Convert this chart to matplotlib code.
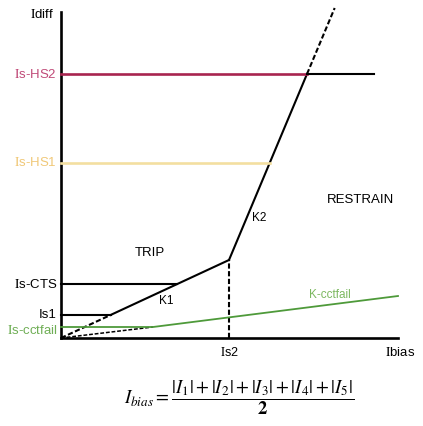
import matplotlib.pyplot as plt
import numpy as np

plt.rcParams['font.family'] = ['Liberation Sans', 'DejaVu Sans']
plt.rcParams['mathtext.fontset'] = 'stix'

# threshold levels (diagram units)
levels = {"Is-HS2": 264, "Is-HS1": 175, "Is-CTS": 54, "Is1": 23, "Is-cctfail": 11}
is2 = 168          # bias at the knee
k1 = 78 / 168      # slope K1
k2 = 186 / 78      # slope K2
k2_top = 330       # end of dashed K2 extension
hs2_end = 313      # black part of HS2 line ends here
cct_knee = 92      # where K-cctfail starts rising
cct_end = (337, 42)
x_end = 337
y_end = 326

fig = plt.figure(figsize=(4.23, 4.26), dpi=100)
ax = fig.add_axes([0, 0, 1, 1])
ax.set_xlim(-61, 362)
ax.set_ylim(-88, 338)
ax.axis('off')

# axes
ax.plot([0, x_end], [0, 0], color='black', lw=1.9)
ax.plot([0, 0], [0, y_end], color='black', lw=1.9)

knee_y = k1 * is2
def k2_x(y):
    return is2 + (y - knee_y) / k2

dash = (0, (2.5, 1.2))

# K1 line (dashed below Is1)
x_is1 = levels["Is1"] / k1
ax.plot([0, x_is1], [0, levels["Is1"]], color='black', lw=1.5, ls=dash)
ax.plot([x_is1, is2], [levels["Is1"], knee_y], color='black', lw=1.5)

# K2 line
hs2 = levels["Is-HS2"]
ax.plot([is2, k2_x(hs2)], [knee_y, hs2], color='black', lw=1.5)
ax.plot([k2_x(hs2), k2_x(k2_top)], [hs2, k2_top], color='black', lw=1.5, ls=dash)

# Is2 vertical dashed
ax.plot([is2, is2], [0, knee_y], color='black', lw=1.5, ls=dash)

# horizontal thresholds
ax.plot([0, k2_x(hs2)], [hs2, hs2], color='#a8244f', lw=1.9)
ax.plot([k2_x(hs2), hs2_end], [hs2, hs2], color='black', lw=1.5)
hs1 = levels["Is-HS1"]
ax.plot([0, k2_x(hs1)], [hs1, hs1], color='#f3dfa0', lw=1.9)
cts = levels["Is-CTS"]
ax.plot([0, cts / k1], [cts, cts], color='black', lw=1.5)
ax.plot([0, x_is1], [levels["Is1"], levels["Is1"]], color='black', lw=1.5)

# cctfail
cct = levels["Is-cctfail"]
ax.plot([0, cct_knee], [0, cct], color='black', lw=1.1, ls=dash)
ax.plot([0, cct_knee, cct_end[0]], [cct, cct, cct_end[1]], color='#4e9a3a', lw=1.3)

# y labels
lab_colors = {"Is-HS2": '#c04a78', "Is-HS1": '#f0c878', "Is-CTS": 'black',
              "Is1": 'black', "Is-cctfail": '#6fae55'}
for name, val in levels.items():
    yy = val - 3 if name == "Is-cctfail" else val
    txt = r"$\mathrm{I}$" + name[1:] if name != "Is1" else "Is1"
    ax.text(-4, yy, txt, ha='right', va='center', fontsize=9.5, color=lab_colors[name])

ax.text(-7, 324, r"$\mathrm{I}$diff", ha='right', va='center', fontsize=9.5)
ax.text(is2, -14, r"$\mathrm{I}$s2", ha='center', va='center', fontsize=9)
ax.text(324, -14, r"$\mathrm{I}$bias", ha='left', va='center', fontsize=9.5)

ax.text(89, 85, "TRIP", ha='center', va='center', fontsize=9.5)
ax.text(299, 138, "RESTRAIN", ha='center', va='center', fontsize=9.5)
ax.text(191, 120, "K2", ha='left', va='center', fontsize=8.5)
ax.text(105, 37, "K1", ha='center', va='center', fontsize=8.5)
ax.text(269, 43, "K-cctfail", ha='center', va='center', fontsize=8.5, color='#7cb860')

ax.text(178, -60,
        r"$I_{bias} = \dfrac{|\mathbf{\mathit{I}}_1| + |\mathbf{\mathit{I}}_2| + |\mathbf{\mathit{I}}_3| + |\mathbf{\mathit{I}}_4| + |\mathbf{\mathit{I}}_5|}{\mathbf{2}}$",
        ha='center', va='center', fontsize=13.5)

fig.savefig('out.png', dpi=100)
